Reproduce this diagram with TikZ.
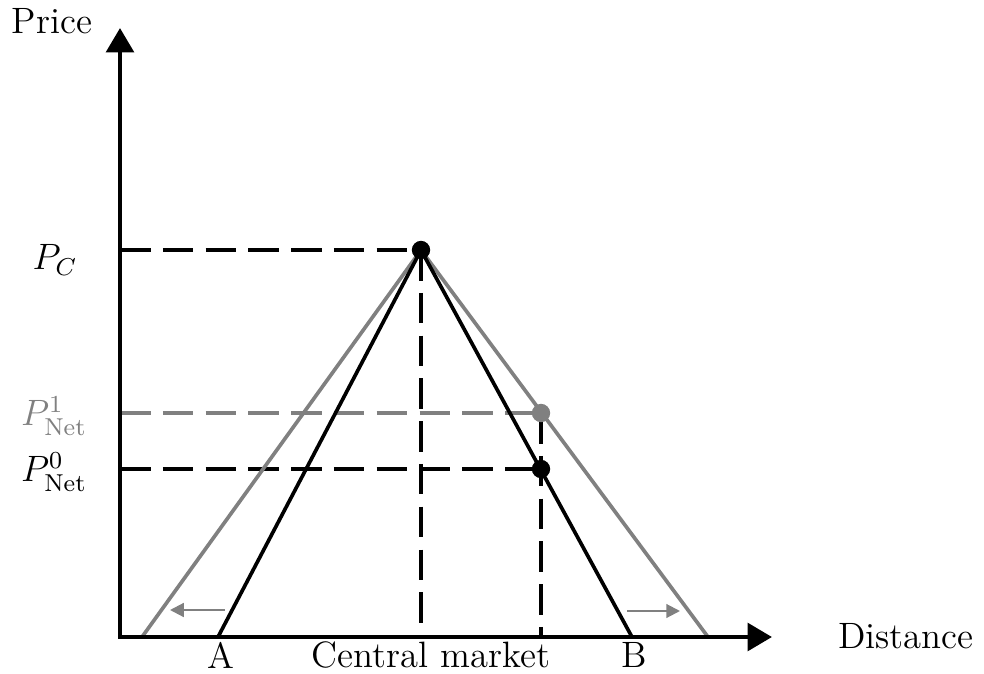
\documentclass[tikz,border=0pt]{standalone}
\usepackage{amsmath,amssymb}
\usepackage{tikz}
\usetikzlibrary{arrows.meta,positioning,calc}

\begin{document}
\begin{tikzpicture}[x=5.75mm,y=5.75mm,font=\large,
  axis/.style={line width=1.5pt,{Triangle[length=8pt,width=9pt]}-{Triangle[length=8pt,width=9pt]}},
  guide/.style={line width=1pt,dash pattern=on 10pt off 4pt},
  cone/.style={line width=1.2pt},
  shiftarrow/.style={gray,line width=0.7pt,-{Triangle[length=4.5pt,width=4.5pt]}},
  dot/.style={circle,fill,inner sep=0pt,minimum size=6pt},
  lab/.style={inner sep=0pt}]
\useasboundingbox (-2.4,-0.72) rectangle (17.28,12.74);
% points of the price cones
\coordinate (O) at (0,0);
\coordinate (ytop) at (0,12.18);
\coordinate (xend) at (13.04,0);
\coordinate (peak) at (6.02,7.74);
\coordinate (footA) at (1.96,0);
\coordinate (footB) at (10.24,0);
\coordinate (footA1) at (0.44,0);
\coordinate (footB1) at (11.76,0);
\coordinate (net1) at (8.42,4.48);
\coordinate (net0) at (8.42,3.36);
\coordinate (pc) at (0,7.74);
\coordinate (pn1) at (0,4.48);
\coordinate (pn0) at (0,3.36);
\coordinate (mkt) at (6.02,0);
\coordinate (sale) at (8.42,0);
% guide lines
\draw[guide] (pc) -- (peak);
\draw[guide] (peak) -- (mkt);
\draw[guide,gray] (pn1) -- (net1);
\draw[guide] (pn0) -- (net0);
\draw[guide] (net1) -- (sale);
% cones
\draw[cone,gray] (footA1) -- (peak) -- (footB1);
\draw[cone] (footA) -- (peak) -- (footB);
\draw[axis] (ytop) -- (O) -- (xend);
% shifts of the cone
\coordinate (lsA) at (2.1,0.54);
\coordinate (leA) at (1.0,0.54);
\coordinate (lsB) at (10.14,0.52);
\coordinate (leB) at (11.2,0.52);
\draw[shiftarrow] (lsA) -- (leA);
\draw[shiftarrow] (lsB) -- (leB);
% dots
\node[dot] (top) at (peak) {};
\node[dot,gray] (d1) at (net1) {};
\node[dot] (d0) at (net0) {};
% labels
\node[lab] (price) at (-1.36,12.32) {Price};
\node[lab] (dist) at (15.72,0.02) {Distance};
\node[lab] (lPC) at (-1.3,7.54) {$P_C$};
\node[lab,gray] (lPN1) at (-1.32,4.42) {$P^1_{\text{Net}}$};
\node[lab] (lPN0) at (-1.32,3.3) {$P^0_{\text{Net}}$};
\node[lab] (lA) at (2.02,-0.36) {A};
\node[lab] (lmkt) at (6.22,-0.36) {Central market};
\node[lab] (lB) at (10.28,-0.36) {B};
\end{tikzpicture}
\end{document}
